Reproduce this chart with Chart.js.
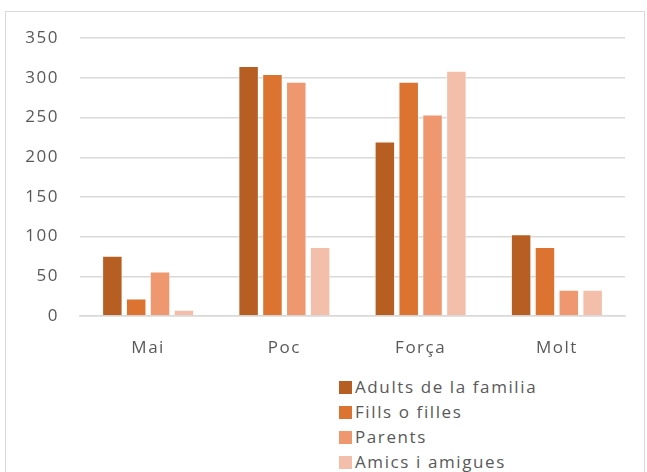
<!DOCTYPE html>
<html>
<head>
<meta charset="utf-8">
<script src="https://cdn.jsdelivr.net/npm/chart.js@4/dist/chart.umd.min.js"></script>
<style>
  html, body { margin: 0; padding: 0; background: #fff; overflow: hidden; }
  body { width: 647px; height: 472px; position: relative; }
  #frame { position: absolute; left: 5px; top: 11px; width: 640px; height: 480px;
           border: 1.5px solid #d9d9d9; box-sizing: border-box; }
  #wrap { position: absolute; left: 5px; top: 7px; width: 638px; height: 365px; }
  #legend { position: absolute; left: 339px; top: 377px; font-family: "Open Sans", sans-serif;
            font-size: 17px; color: #595959; }
  #legend div { height: 25px; line-height: 20px; white-space: nowrap; letter-spacing: 1.6px; }
  #legend span { display: inline-block; width: 13px; height: 13px; margin-right: 3px; vertical-align: -1px; }
</style>
</head>
<body>
<div id="frame"></div>
<div id="wrap"><canvas id="myChart"></canvas></div>
<div id="legend"></div>
<script>
// setup
const categories = ['Mai', 'Poc', 'Força', 'Molt'];
const seriesNames = ['Adults de la familia', 'Fills o filles', 'Parents', 'Amics i amigues'];
const adults = [76, 315, 220, 103];
const fills = [22, 305, 295, 87];
const parents = [56, 295, 254, 33];
const amics = [8, 87, 309, 33];
const colors = ['#b75f23', '#dd7330', '#ef9870', '#f4bfaa'];
const yTicks = [0, 50, 100, 150, 200, 250, 300, 350];

const seriesValues = [adults, fills, parents, amics];

const data = {
  labels: categories,
  datasets: seriesNames.map((name, i) => ({
    label: name,
    data: seriesValues[i],
    backgroundColor: colors[i],
    borderColor: 'rgba(255,255,255,0.6)',
    borderWidth: 1,
    categoryPercentage: 0.7,
    barPercentage: 0.86
  }))
};

const tickFont = { family: '"Open Sans", sans-serif', size: 17 };

// wider letter spacing, like the blurry source
const spacing = {
  id: 'spacing',
  beforeLayout(chart) { chart.ctx.letterSpacing = '1.5px'; },
  beforeDraw(chart) { chart.ctx.letterSpacing = '1.5px'; }
};

const config = {
  type: 'bar',
  data,
  options: {
    responsive: true,
    maintainAspectRatio: false,
    animation: false,
    layout: { padding: { top: 31, right: 18, left: 0, bottom: 0 } },
    plugins: {
      legend: { display: false },
      tooltip: { enabled: false }
    },
    scales: {
      x: {
        grid: { display: false, drawTicks: false },
        border: { color: '#d9d9d9', width: 1.5 },
        ticks: { color: '#595959', font: tickFont, padding: 22 },
        afterFit(scale) { scale.height = 56; }
      },
      y: {
        min: 0,
        max: yTicks[yTicks.length - 1],
        afterBuildTicks(scale) { scale.ticks = yTicks.map(v => ({ value: v })); },
        grid: { color: '#d9d9d9', lineWidth: 1.5, drawTicks: false },
        border: { display: false },
        ticks: { color: '#595959', font: tickFont, padding: 21 },
        afterFit(scale) { scale.width = 75; }
      }
    }
  },
  plugins: [spacing]
};

// render init block
const myChart = new Chart(document.getElementById('myChart'), config);

// legend
const legend = document.getElementById('legend');
seriesNames.forEach((name, i) => {
  const row = document.createElement('div');
  const box = document.createElement('span');
  box.style.background = colors[i];
  row.appendChild(box);
  row.appendChild(document.createTextNode(name));
  legend.appendChild(row);
});
</script>
</body>
</html>
